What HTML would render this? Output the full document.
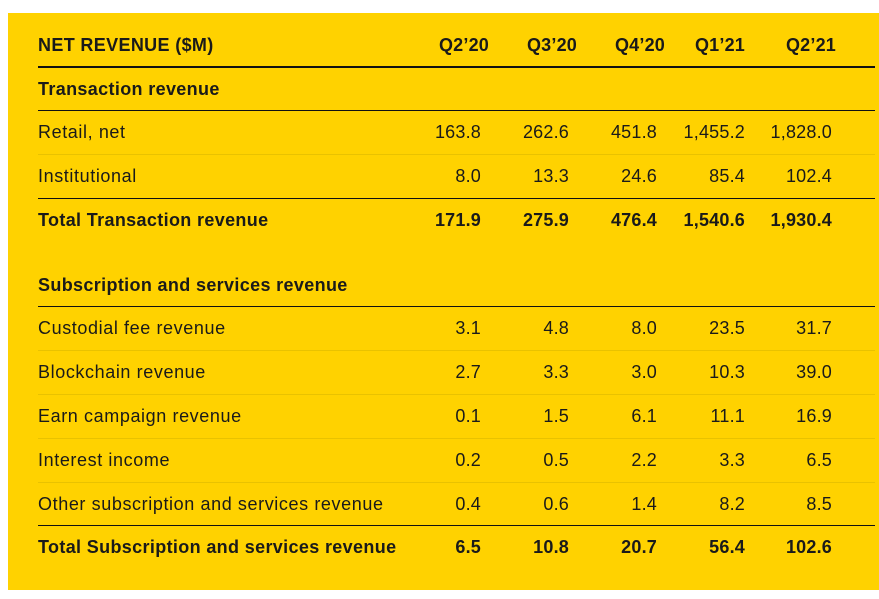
<!DOCTYPE html>
<html><head><meta charset="utf-8"><style>
body{margin:0;width:879px;height:599px;background:#fff;position:relative;overflow:hidden;font-family:"Liberation Sans",sans-serif;color:#1a1a1a}
#bg{position:absolute;left:8px;top:13px;width:871px;height:577px;background:#FFD200}
.t{position:absolute;font-size:18px;line-height:20px;white-space:nowrap;letter-spacing:0.6px}
.b{font-weight:bold;letter-spacing:0.35px}
.r{text-align:right;letter-spacing:0.2px}
.ln{position:absolute;left:38px;width:837px}
</style></head><body>
<div id="bg"></div>
<div id="tbl"></div>
<script>
const rows=[
 ["Retail, net",[ "163.8","262.6","451.8","1,455.2","1,828.0"],0,132],
 ["Institutional",["8.0","13.3","24.6","85.4","102.4"],0,176],
 ["Total Transaction revenue",["171.9","275.9","476.4","1,540.6","1,930.4"],1,220],
 ["Custodial fee revenue",["3.1","4.8","8.0","23.5","31.7"],0,328],
 ["Blockchain revenue",["2.7","3.3","3.0","10.3","39.0"],0,372],
 ["Earn campaign revenue",["0.1","1.5","6.1","11.1","16.9"],0,416],
 ["Interest income",["0.2","0.5","2.2","3.3","6.5"],0,460],
 ["Other subscription and services revenue",["0.4","0.6","1.4","8.2","8.5"],0,504],
 ["Total Subscription and services revenue",["6.5","10.8","20.7","56.4","102.6"],1,547]
];
const headers=["Q2\u201920","Q3\u201920","Q4\u201920","Q1\u201921","Q2\u201921"];
const colR=[481,569,657,745,832];
const hdrR=[489,577,665,745,836];
const T=document.getElementById('tbl');
function txt(s,x,y,bold,right,name){
 const d=document.createElement('div');
 d.className='t'+(bold?' b':'')+(right?' r':'');
 d.textContent=s;d.style.top=(y-10)+'px';
 if(right){d.style.left=(x-120)+'px';d.style.width='120px';}else d.style.left=x+'px';
 
 
 T.appendChild(d);
}
function line(y,h,c,name){
 const d=document.createElement('div');d.className='ln';
 d.style.top=y+'px';d.style.height=h+'px';d.style.background=c;
 
 
 T.appendChild(d);
}
txt("NET REVENUE ($M)",38,45,1,0,'header-title');
headers.forEach((h,i)=>txt(h,hdrR[i],45,1,1,'column-header'));
line(66,2,'#111','header-rule');
txt("Transaction revenue",38,89,1,0,'section-title');
line(110,1,'#111','section-rule');
txt("Subscription and services revenue",38,285,1,0,'section-title');
line(306,1,'#111','section-rule');
rows.forEach((r,k)=>{
 txt(r[0],38,r[3],r[2],0,'row-label');
 r[1].forEach((v,i)=>txt(v,colR[i],r[3],r[2],1,'cell-value'));
});
[154,350,394,438,482].forEach(y=>line(y,1,'#e9c200','row-divider'));
line(198,1,'#111','total-rule');
line(525,1,'#111','total-rule');
</script>
</body></html>
